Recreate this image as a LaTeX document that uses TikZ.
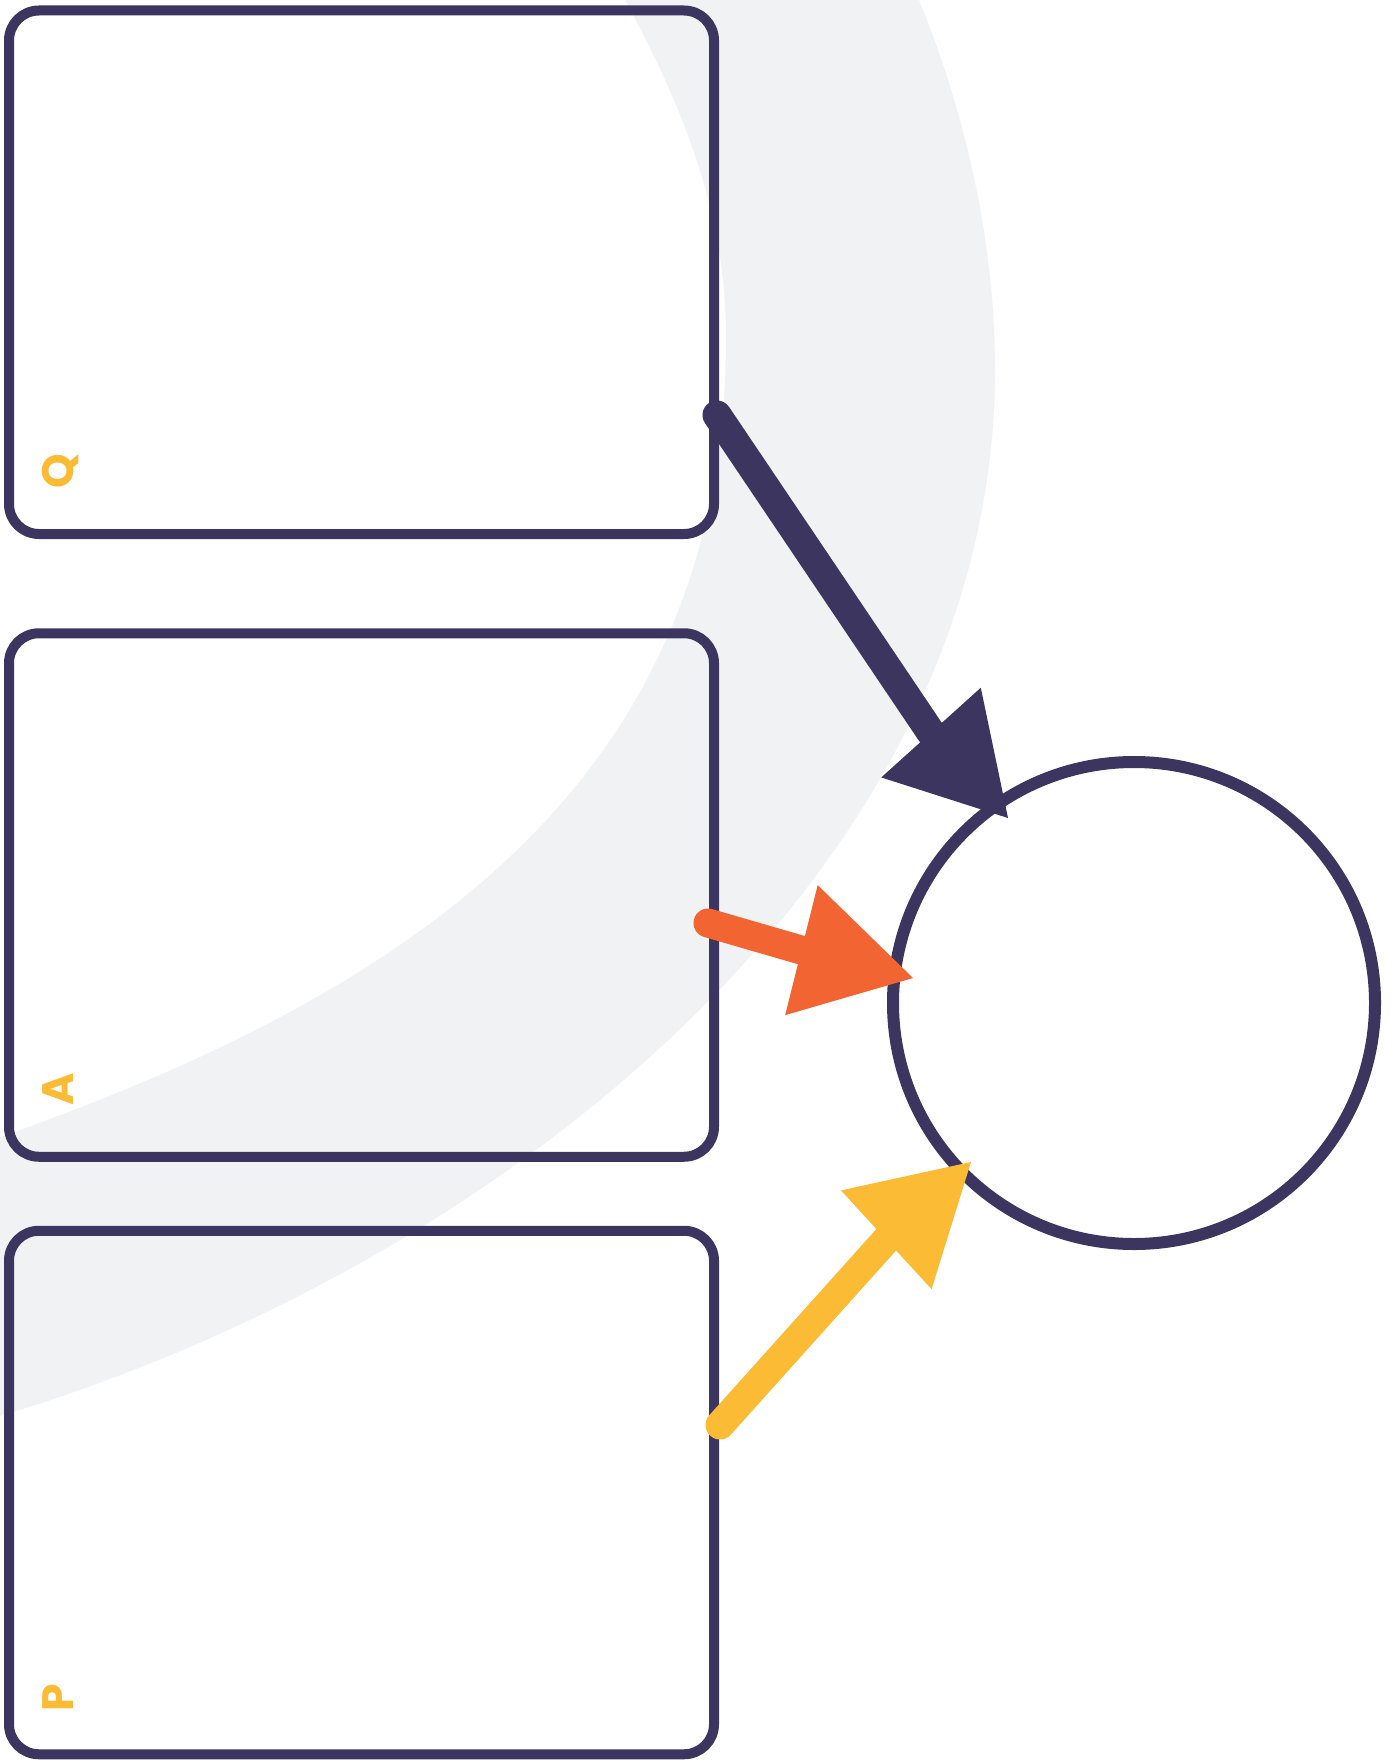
\documentclass[tikz,border=0pt]{standalone}
\usepackage{fontspec}
\newfontfamily\popfont{Poppins}
\usetikzlibrary{arrows.meta}
\definecolor{navy}{HTML}{3B3560}
\definecolor{accorange}{HTML}{F26532}
\definecolor{accyellow}{HTML}{FBBB35}
\definecolor{bggrey}{HTML}{F1F2F4}
\tikzset{
  panel/.style={draw=navy, line width=10pt, rounded corners=30pt, rectangle,
    minimum width=705pt, minimum height=523.5pt, inner sep=0pt, outer sep=0pt},
  hub/.style={draw=navy, line width=12pt, circle, minimum size=482pt, inner sep=0pt},
  conn/.style={line width=29pt, line cap=round, line join=round,
    -{Triangle[length=115pt,width=134pt,line width=0pt]}},
  lab/.style={text=accyellow, font=\popfont\bfseries\fontsize{44}{44}\selectfont,
    rotate=90, anchor=base west, inner sep=0pt}
}
\begin{document}
\begin{tikzpicture}[x=1pt,y=-1pt]
\useasboundingbox (0,0) rectangle (1392,1761);
% background crescent
\fill[bggrey] (912,-20) -- (919,0) .. controls (960,100) and (995,230) .. (995,370)
  .. controls (995,870) and (500,1266) .. (0,1416) -- (-20,1422) -- (-20,-20) -- cycle;
\fill[white] (615,-20) -- (625,0) .. controls (672,88) and (726,200) .. (726,337)
  .. controls (726,770) and (430,986) .. (0,1137) -- (-20,1144) -- (-20,-20) -- cycle;
% panels
\node[panel] (pq) at (361.5,272.25) {};
\node[panel] (pa) at (361.5,895) {};
\node[panel] (pp) at (361.5,1492.5) {};
% hub
\node[hub] (hub) at (1134,1003) {};
% labels
\node[lab] (lq) at (73,489) {Q};
\node[lab] (la) at (73,1106) {A};
\node[lab] (lp) at (73,1712) {P};
% connectors
\coordinate (qs) at (717,415);
\coordinate (qb) at (930.5,732);
\coordinate (qt) at (1008,818);
\coordinate (as) at (708,923);
\coordinate (ab) at (801,950);
\coordinate (at) at (913,978);
\coordinate (ps) at (720,1425);
\coordinate (pb) at (886,1240);
\coordinate (pt) at (971,1162);
\draw[conn, navy] (qs) -- (qb) -- (qt);
\draw[conn, accorange] (as) -- (ab) -- (at);
\draw[conn, accyellow] (ps) -- (pb) -- (pt);
\end{tikzpicture}
\end{document}
